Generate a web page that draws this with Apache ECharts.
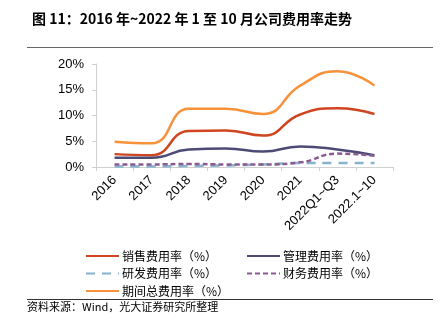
<!DOCTYPE html>
<html><head><meta charset="utf-8">
<script src="https://cdn.jsdelivr.net/npm/echarts@6/dist/echarts.min.js"></script>
<style>html,body{margin:0;padding:0;background:#fff}#c{width:443px;height:329px}</style>
</head><body><div id="c"></div>
<script>
var categories = ['2016','2017','2018','2019','2020','2021','2022Q1~Q3','2022.1~10'];
var salesRate = [2.5, 2.3, 7.0, 7.1, 6.1, 10.2, 11.4, 10.3];
var adminRate = [1.8, 1.8, 3.4, 3.6, 3.0, 4.0, 3.4, 2.3];
var rdRate = [0.1, 0.1, 0.2, 0.3, 0.5, 0.8, 0.8, 0.8];
var finRate = [0.5, 0.5, 0.6, 0.5, 0.5, 0.9, 2.6, 2.2];
var totalRate = [4.9, 4.6, 11.3, 11.3, 10.3, 15.8, 18.6, 15.8];
var yTicks = [0, 5, 10, 15, 20];
var names = ['销售费用率（%）','管理费用率（%）','研发费用率（%）','财务费用率（%）','期间总费用率（%）'];

var chart = echarts.init(document.getElementById('c'));
var font = '"Noto Sans CJK SC", "Liberation Sans", sans-serif';
function mk(name, data, color, type, z) {
  return {name: name, type: 'line', data: data, smooth: 0.5, symbol: 'none', z: z,
    lineStyle: {color: color, width: 2.5, type: type}, itemStyle: {color: color}};
}
var legendCommon = {orient: 'vertical', itemWidth: 33, itemHeight: 10, itemGap: 5.5,
  itemStyle: {opacity: 0, color: 'transparent', borderColor: 'transparent', borderWidth: 0},
  textStyle: {fontSize: 12, color: '#000', fontFamily: font, padding: [0,0,0,-2]}};
chart.setOption({
  animation: false,
  textStyle: {fontFamily: font},
  title: {text: '图 11：2016 年~2022 年 1 至 10 月公司费用率走势', left: 27, top: 7,
    textStyle: {fontSize: 14, fontWeight: 'bold', color: '#000', fontFamily: font}},
  graphic: [
    {type: 'line', shape: {x1: 27, y1: 47.5, x2: 433, y2: 47.5}, style: {stroke: '#666', lineWidth: 1}},
    {type: 'line', shape: {x1: 27, y1: 299.5, x2: 433, y2: 299.5}, style: {stroke: '#333', lineWidth: 1}},
    {type: 'text', left: 27, top: 301, style: {text: '资料来源：Wind，光大证券研究所整理', font: '11px ' + font, fill: '#000'}}
  ],
  legend: [
    Object.assign({data: [names[0], names[2], names[4]], left: 80, top: 245}, legendCommon),
    Object.assign({data: [names[1], names[3]], left: 241, top: 245}, legendCommon)
  ],
  grid: {left: 96, right: 50, top: 64, bottom: 162},
  xAxis: {type: 'category', data: categories, boundaryGap: true,
    axisLine: {lineStyle: {color: '#d0d0d0'}},
    axisTick: {show: true, lineStyle: {color: '#d0d0d0'}, length: 4},
    axisLabel: {rotate: 45, fontSize: 13, color: '#000', margin: 11, fontFamily: 'Liberation Sans, Arial, sans-serif'}},
  yAxis: {type: 'value', min: yTicks[0], max: yTicks[yTicks.length-1], interval: 5,
    axisLine: {show: true, lineStyle: {color: '#d0d0d0'}},
    axisTick: {show: true, lineStyle: {color: '#d0d0d0'}, length: 4},
    splitLine: {show: false},
    axisLabel: {formatter: '{value}%', fontSize: 13, color: '#000', margin: 12, fontFamily: 'Liberation Sans, Arial, sans-serif'}},
  series: [
    mk(names[0], salesRate, '#CF4520', 'solid', 3),
    mk(names[1], adminRate, '#4D4A75', 'solid', 3),
    mk(names[2], rdRate, '#86B4CC', [9, 7], 2),
    mk(names[3], finRate, '#8A5A92', [5, 3], 4),
    mk(names[4], totalRate, '#F7923A', 'solid', 3)
  ]
});
</script></body></html>
